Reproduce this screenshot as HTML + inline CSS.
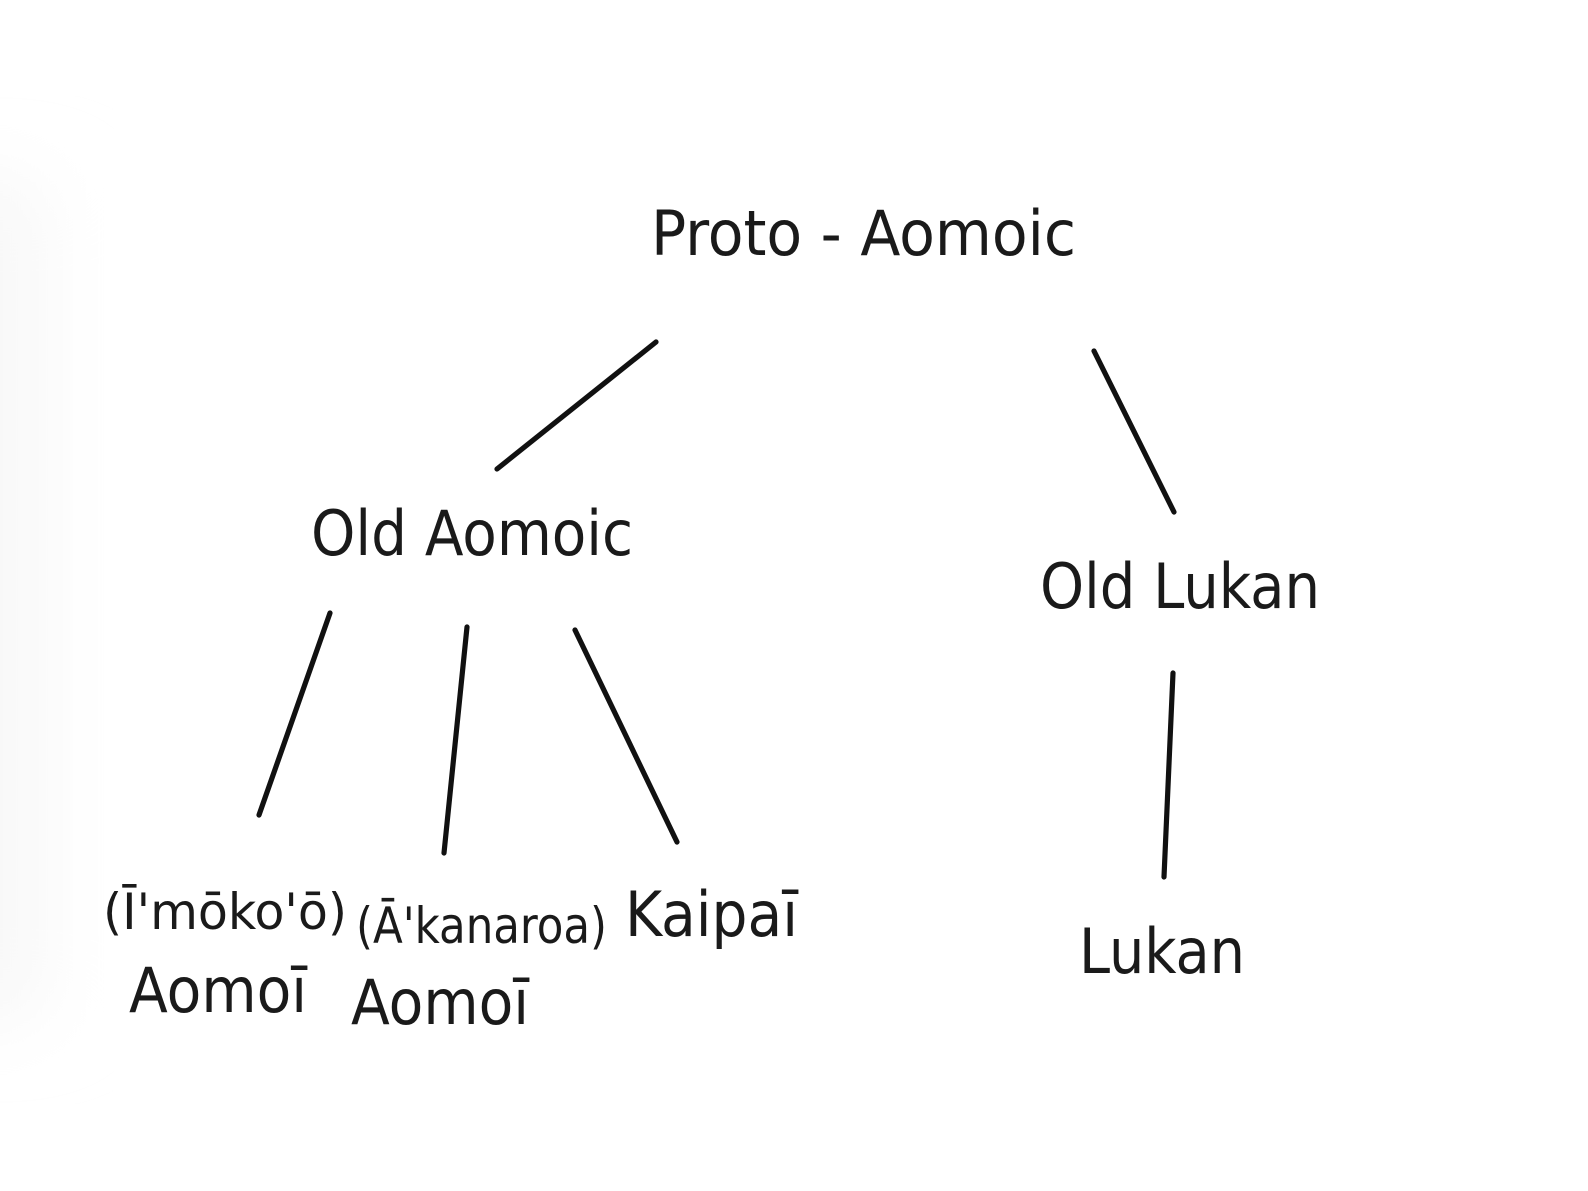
<!DOCTYPE html>
<html><head><meta charset="utf-8"><style>
html,body{margin:0;padding:0;background:#fff;}
svg{display:block;}
text{font-family:"DejaVu Sans Condensed","DejaVu Sans","Liberation Sans",sans-serif;fill:#1a1a1a;}
</style></head><body>
<svg width="1588" height="1191" viewBox="0 0 1588 1191" xmlns="http://www.w3.org/2000/svg">
<defs>
<linearGradient id="g" x1="0" x2="1" y1="0" y2="0"><stop offset="0" stop-color="#eeeeee"/><stop offset="1" stop-color="#fff" stop-opacity="0"/></linearGradient>
<filter id="b"><feGaussianBlur stdDeviation="40"/></filter>
</defs>
<rect width="1588" height="1191" fill="#fff"/>
<rect x="-40" y="180" width="140" height="840" fill="url(#g)" filter="url(#b)"/>
<g stroke="#111" stroke-width="5.2" stroke-linecap="round">
<line x1="656" y1="342" x2="497" y2="469"/>
<line x1="1094" y1="351" x2="1174" y2="512"/>
<line x1="330" y1="613" x2="259" y2="815"/>
<line x1="467" y1="627" x2="444" y2="853"/>
<line x1="575" y1="630" x2="677" y2="842"/>
<line x1="1173" y1="673" x2="1164" y2="877"/>
</g>
<text x="651" y="255" font-size="62" textLength="425" lengthAdjust="spacingAndGlyphs">Proto - Aomoic</text>
<text x="311" y="555" font-size="62" textLength="322" lengthAdjust="spacingAndGlyphs">Old Aomoic</text>
<text x="1040" y="608" font-size="62" textLength="280" lengthAdjust="spacingAndGlyphs">Old Lukan</text>
<text x="103" y="929" font-size="50" textLength="244" lengthAdjust="spacingAndGlyphs">(Ī'mōko'ō)</text>
<text x="356" y="943" font-size="50" textLength="251" lengthAdjust="spacingAndGlyphs">(Ā'kanaroa)</text>
<text x="625" y="936" font-size="62" textLength="173" lengthAdjust="spacingAndGlyphs">Kaipaī</text>
<text x="129" y="1012" font-size="62" textLength="178" lengthAdjust="spacingAndGlyphs">Aomoī</text>
<text x="351" y="1024" font-size="62" textLength="178" lengthAdjust="spacingAndGlyphs">Aomoī</text>
<text x="1079" y="973" font-size="62" textLength="166" lengthAdjust="spacingAndGlyphs">Lukan</text>
</svg>
</body></html>
